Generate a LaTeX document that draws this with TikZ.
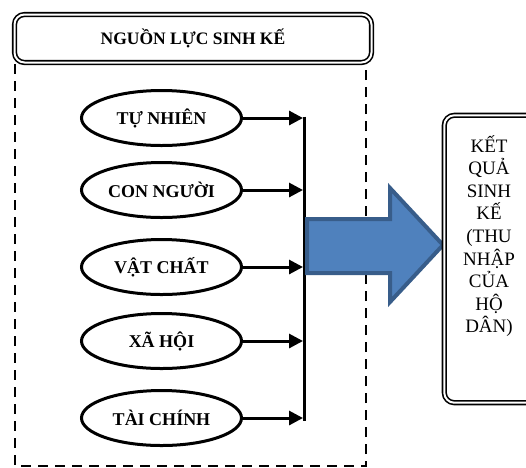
\documentclass[tikz,border=0pt]{standalone}
\usepackage{fontspec}
\setmainfont{Liberation Serif}
\usetikzlibrary{shapes.geometric,arrows.meta}
\definecolor{arrowfill}{RGB}{79,129,189}
\definecolor{arrowline}{RGB}{56,93,138}
\tikzset{%
  dblbox/.style   = {shape=rectangle, rounded corners=10pt, draw, double,%
                     line width=1.6pt, double distance=2pt, fill=white},%
  srcnode/.style  = {shape=ellipse, draw, line width=3pt, inner sep=0pt,%
                     minimum width=160pt, minimum height=55pt,%
                     font=\fontsize{18}{20}\selectfont\bfseries},%
  link/.style     = {line width=3pt, shorten >=1pt,%
                     -{Triangle[length=14pt,width=14pt]}},%
  dashbox/.style  = {line width=2.4pt, dash pattern=on 10pt off 7pt},%
  bigarrow/.style = {fill=arrowfill, draw=arrowline, line width=4pt, line join=miter}%
}

\begin{document}
\begin{tikzpicture}[x=1pt,y=-1pt]
	\useasboundingbox (0,0) rectangle (526,467);
	% khung nguon luc
	\draw [dashbox] (15,64) -- (15,466) -- (366,466) -- (366,64);
	\node [dblbox, minimum width=357pt, minimum height=48pt,
		font=\fontsize{17.5}{20}\selectfont\bfseries] (title) at (193,38.5) {NGUỒN LỰC SINH KẾ};
	\foreach \name/\y/\txt in {tn/118/TỰ NHIÊN, cn/190/CON NGƯỜI, vc/267/VẬT CHẤT,
			xh/341/XÃ HỘI, tc/418/TÀI CHÍNH}
		\node [srcnode] (\name) at (161.5,\y) {\txt};
	\coordinate (bartop) at (304,116.5);
	\coordinate (barbot) at (304,421);
	\draw [line width=3pt] (bartop) -- (barbot);
	\foreach \name in {tn,cn,vc,xh,tc}
		\draw [link] (\name.east) -- (\name.east -| bartop);
	% mui ten lon
	\draw [bigarrow] (307,219) -- (390,219) -- (390,188) -- (443,245)
		-- (390,302) -- (390,273) -- (307,273) -- cycle;
	% ket qua
	\node [dblbox, minimum width=93.4pt, minimum height=287.4pt] (result) at (491,259) {};
	\node [align=center, font=\fontsize{19}{22.6}\selectfont] (resulttxt) at (489,236)
		{KẾT\\QUẢ\\SINH\\KẾ\\(THU\\NHẬP\\CỦA\\HỘ\\DÂN)};
\end{tikzpicture}
\end{document}
